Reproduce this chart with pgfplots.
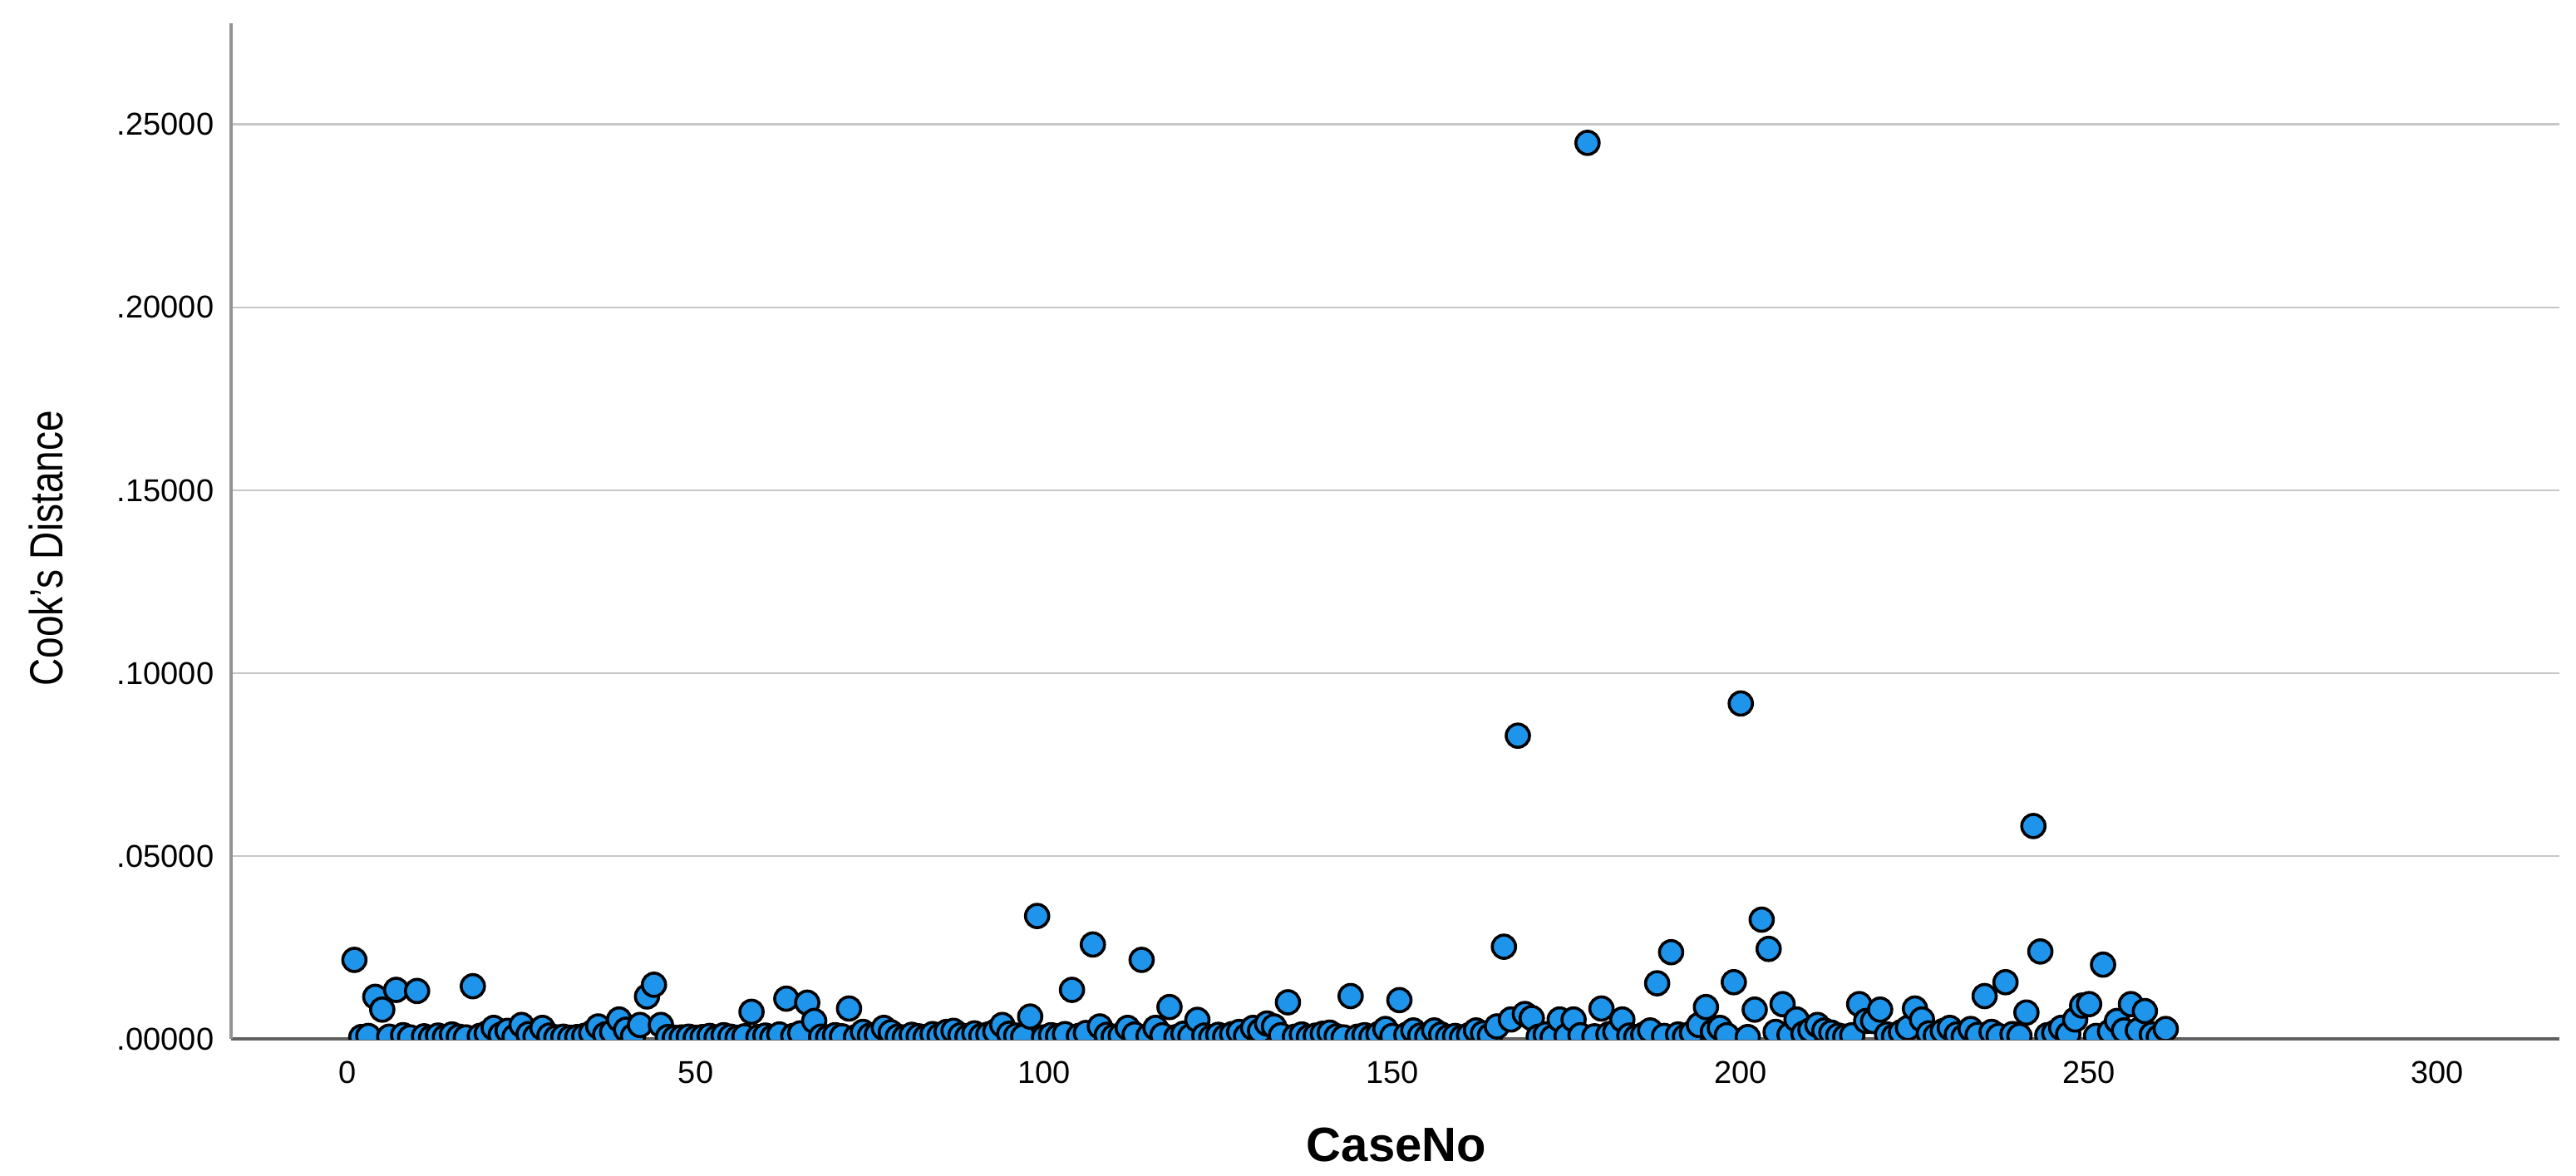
\documentclass[border=0pt]{standalone}
\usepackage{pgfplots}
\usepackage{pgfplotstable}
\usepackage{graphicx}
\usepackage{fontspec}
\setmainfont{Liberation Sans}
\pgfplotsset{compat=1.18}
\definecolor{spssblue}{RGB}{30,148,235}
\pgfplotstableread{
x y
1 0.0216
2 0.0005
3 0.0008
4 0.0115
5 0.0080
6 0.0006
7 0.0134
8 0.0010
9 0.0004
10 0.0131
11 0.0007
12 0.0003
13 0.0009
14 0.0005
15 0.0012
16 0.0006
17 0.0004
18 0.0144
19 0.0008
20 0.0015
21 0.0030
22 0.0011
23 0.0022
24 0.0006
25 0.0038
26 0.0013
27 0.0007
28 0.0030
29 0.0009
30 0.0004
31 0.0006
32 0.0003
33 0.0005
34 0.0008
35 0.0016
36 0.0034
37 0.0012
38 0.0019
39 0.0053
40 0.0025
41 0.0008
42 0.0038
43 0.0116
44 0.0148
45 0.0038
46 0.0005
47 0.0003
48 0.0004
49 0.0006
50 0.0003
51 0.0005
52 0.0008
53 0.0004
54 0.0010
55 0.0006
56 0.0003
57 0.0007
58 0.0074
59 0.0005
60 0.0009
61 0.0004
62 0.0012
63 0.0110
64 0.0008
65 0.0015
66 0.0099
67 0.0049
68 0.0006
69 0.0004
70 0.0010
71 0.0007
72 0.0083
73 0.0005
74 0.0019
75 0.0009
76 0.0012
77 0.0030
78 0.0018
79 0.0006
80 0.0004
81 0.0011
82 0.0007
83 0.0005
84 0.0013
85 0.0009
86 0.0019
87 0.0022
88 0.0010
89 0.0006
90 0.0015
91 0.0008
92 0.0012
93 0.0020
94 0.0038
95 0.0014
96 0.0009
97 0.0006
98 0.0061
99 0.0336
100 0.0004
101 0.0010
102 0.0007
103 0.0013
104 0.0134
105 0.0008
106 0.0016
107 0.0258
108 0.0034
109 0.0011
110 0.0006
111 0.0009
112 0.0030
113 0.0012
114 0.0216
115 0.0008
116 0.0030
117 0.0010
118 0.0087
119 0.0005
120 0.0014
121 0.0007
122 0.0052
123 0.0009
124 0.0004
125 0.0011
126 0.0006
127 0.0013
128 0.0019
129 0.0008
130 0.0030
131 0.0022
132 0.0042
133 0.0034
134 0.0010
135 0.0100
136 0.0006
137 0.0012
138 0.0005
139 0.0009
140 0.0014
141 0.0017
142 0.0007
143 0.0004
144 0.0117
145 0.0006
146 0.0010
147 0.0005
148 0.0013
149 0.0027
150 0.0008
151 0.0106
152 0.0011
153 0.0023
154 0.0009
155 0.0006
156 0.0023
157 0.0012
158 0.0005
159 0.0008
160 0.0004
161 0.0010
162 0.0023
163 0.0015
164 0.0009
165 0.0034
166 0.0252
167 0.0053
168 0.0829
169 0.0068
170 0.0057
171 0.0006
172 0.0012
173 0.0004
174 0.0053
175 0.0008
176 0.0053
177 0.0010
178 0.2450
179 0.0007
180 0.0083
181 0.0012
182 0.0019
183 0.0053
184 0.0009
185 0.0005
186 0.0011
187 0.0023
188 0.0152
189 0.0008
190 0.0237
191 0.0012
192 0.0006
193 0.0016
194 0.0038
195 0.0087
196 0.0020
197 0.0030
198 0.0010
199 0.0155
200 0.0917
201 0.0005
202 0.0080
203 0.0326
204 0.0246
205 0.0019
206 0.0095
207 0.0011
208 0.0053
209 0.0014
210 0.0024
211 0.0038
212 0.0023
213 0.0017
214 0.0009
215 0.0006
216 0.0010
217 0.0095
218 0.0049
219 0.0049
220 0.0080
221 0.0012
222 0.0007
223 0.0018
224 0.0030
225 0.0083
226 0.0053
227 0.0015
228 0.0009
229 0.0021
230 0.0030
231 0.0012
232 0.0006
233 0.0027
234 0.0011
235 0.0117
236 0.0019
237 0.0008
238 0.0155
239 0.0013
240 0.0008
241 0.0072
242 0.0582
243 0.0239
244 0.0010
245 0.0016
246 0.0030
247 0.0013
248 0.0053
249 0.0091
250 0.0095
251 0.0008
252 0.0203
253 0.0020
254 0.0049
255 0.0023
256 0.0095
257 0.0023
258 0.0076
259 0.0012
260 0.0005
261 0.0027
}\cooks
\begin{document}
\begin{tikzpicture}
\begin{axis}[
  name=ax,
  at={(0,0)}, anchor=south west,
  scale only axis,
  width=700.25pt, height=305.5pt,
  xmin=-16.7, xmax=317.5,
  ymin=0, ymax=0.2777,
  axis x line=bottom, axis y line=left,
  axis line style={-},
  x axis line style={draw=black!62, line width=1.2pt},
  y axis line style={draw=black!42, line width=1pt},
  xtick={0,50,100,150,200,250,300},
  ytick={0,0.05,0.1,0.15,0.2,0.25},
  yticklabels={.00000,.05000,.10000,.15000,.20000,.25000},
  major tick length=0pt,
  ymajorgrids,
  grid style={draw=black!22, line width=0.7pt},
  /pgf/number format/assume math mode=true,
  ticklabel style={font=\fontsize{9.5}{10}\selectfont, text=black},
  yticklabel style={inner sep=0pt, anchor=east, xshift=-5pt},
  xticklabel style={inner sep=0pt, anchor=north, yshift=-6.5pt},
  xlabel={CaseNo},
  ylabel={\scalebox{0.82}[1]{Cook's Distance}},
  xlabel style={font=\fontsize{14.5}{16}\selectfont\bfseries, at={(axis description cs:0.5005,-0.1047)}, anchor=center, inner sep=0pt},
  ylabel style={font=\fontsize{14}{16}\selectfont, at={(axis description cs:-0.0796,0.483)}, anchor=center, inner sep=0pt},
  clip marker paths=true,
]
\addplot[only marks, mark=*, mark size=3.5pt, mark options={fill=spssblue, draw=black, line width=0.9pt}] table[x=x, y=y] {\cooks};
\end{axis}
\pgfresetboundingbox
\path (-69.5pt,-41.25pt) rectangle (705.25pt,312.5pt);
\end{tikzpicture}
\end{document}
